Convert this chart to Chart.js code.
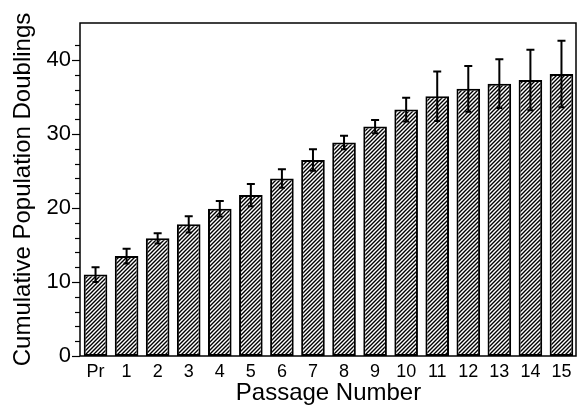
<!DOCTYPE html>
<html><head><meta charset="utf-8">
<script src="https://cdn.jsdelivr.net/npm/chart.js@4/dist/chart.umd.min.js"></script>
<style>html,body{margin:0;padding:0;background:#fff}#wrap{width:578px;height:406px}</style>
</head><body><div id="wrap"><canvas id="c" width="578" height="406"></canvas></div>
<script>
const categories = ['Pr','1','2','3','4','5','6','7','8','9','10','11','12','13','14','15'];
const doublings = [11.0, 13.5, 15.9, 17.8, 19.9, 21.75, 24.0, 26.5, 28.85, 31.0, 33.3, 35.1, 36.1, 36.8, 37.3, 38.1];
const errors = [1.0, 1.0, 0.7, 1.1, 1.05, 1.5, 1.25, 1.45, 0.9, 0.9, 1.6, 3.35, 3.1, 3.3, 4.1, 4.5];
const yMajorTicks = [0, 10, 20, 30, 40];

const FONT = "'Liberation Sans', Arial, Helvetica, sans-serif";

function hatch() {
  const s = 4;
  const c = document.createElement('canvas');
  c.width = s; c.height = s;
  const g = c.getContext('2d');
  g.fillStyle = '#fff'; g.fillRect(0, 0, s, s);
  g.strokeStyle = '#000'; g.lineWidth = 1.4;
  g.beginPath();
  g.moveTo(-1, s + 1); g.lineTo(s + 1, -1);
  g.moveTo(-1, 1); g.lineTo(1, -1);
  g.moveTo(s - 1, s + 1); g.lineTo(s + 1, s - 1);
  g.stroke();
  return document.getElementById('c').getContext('2d').createPattern(c, 'repeat');
}

const extras = {
  id: 'extras',
  afterDatasetsDraw(chart) {
    const ctx = chart.ctx, y = chart.scales.y;
    const meta = chart.getDatasetMeta(0);
    ctx.save();
    ctx.strokeStyle = '#000'; ctx.lineWidth = 2;
    meta.data.forEach((bar, i) => {
      const x = bar.x;
      const t = y.getPixelForValue(doublings[i] + errors[i]);
      const b = y.getPixelForValue(doublings[i] - errors[i]);
      ctx.beginPath();
      ctx.moveTo(x, t); ctx.lineTo(x, b);
      ctx.moveTo(x - 4, t); ctx.lineTo(x + 4, t);
      ctx.moveTo(x - 3, b); ctx.lineTo(x + 3, b);
      ctx.stroke();
    });
    ctx.restore();
  },
  afterDraw(chart) {
    const ctx = chart.ctx, a = chart.chartArea, y = chart.scales.y;
    ctx.save();
    ctx.strokeStyle = '#000';
    ctx.lineWidth = 1.5;
    ctx.strokeRect(a.left, a.top, a.right - a.left - 1, a.bottom - a.top);
    ctx.lineWidth = 1.2;
    y.ticks.forEach(t => {
      if (t.value % 2 !== 0) return;
      const py = Math.round(y.getPixelForValue(t.value)) + 0.5;
      const len = yMajorTicks.includes(t.value) ? 8 : 5;
      ctx.beginPath(); ctx.moveTo(a.left - len, py); ctx.lineTo(a.left, py); ctx.stroke();
    });
    ctx.restore();
  }
};

new Chart(document.getElementById('c'), {
  type: 'bar',
  data: {
    labels: categories,
    datasets: [{
      data: doublings,
      backgroundColor: hatch(),
      borderColor: '#000',
      borderWidth: 2,
      borderSkipped: false,
      barPercentage: 0.76,
      categoryPercentage: 1.0
    }]
  },
  options: {
    responsive: false,
    animation: false,
    devicePixelRatio: 1,
    layout: { padding: { top: 23, right: 1, left: 0, bottom: 0 } },
    plugins: { legend: { display: false }, tooltip: { enabled: false } },
    scales: {
      x: {
        grid: { display: false, drawTicks: false },
        border: { display: false },
        ticks: { color: '#000', font: { family: FONT, size: 18 }, padding: 5, maxRotation: 0, autoSkip: false },
        title: { display: true, text: 'Passage Number', color: '#000', font: { family: FONT, size: 24, lineHeight: 1 }, padding: { top: 0, bottom: 1 } },
        afterFit(s) { s.height = 50; }
      },
      y: {
        min: 0, max: 45,
        grid: { display: false, drawTicks: false },
        border: { display: false },
        ticks: {
          stepSize: 2, color: '#000', padding: 9, autoSkip: false,
          font: { family: FONT, size: 22 },
          callback: v => yMajorTicks.includes(v) ? String(v) : ''
        },
        title: { display: true, text: 'Cumulative Population Doublings', color: '#000', font: { family: FONT, size: 24, lineHeight: 1 }, padding: { top: 11, bottom: 0 } },
        afterFit(s) { s.width = 80; }
      }
    }
  },
  plugins: [extras]
});
</script>
</body></html>
